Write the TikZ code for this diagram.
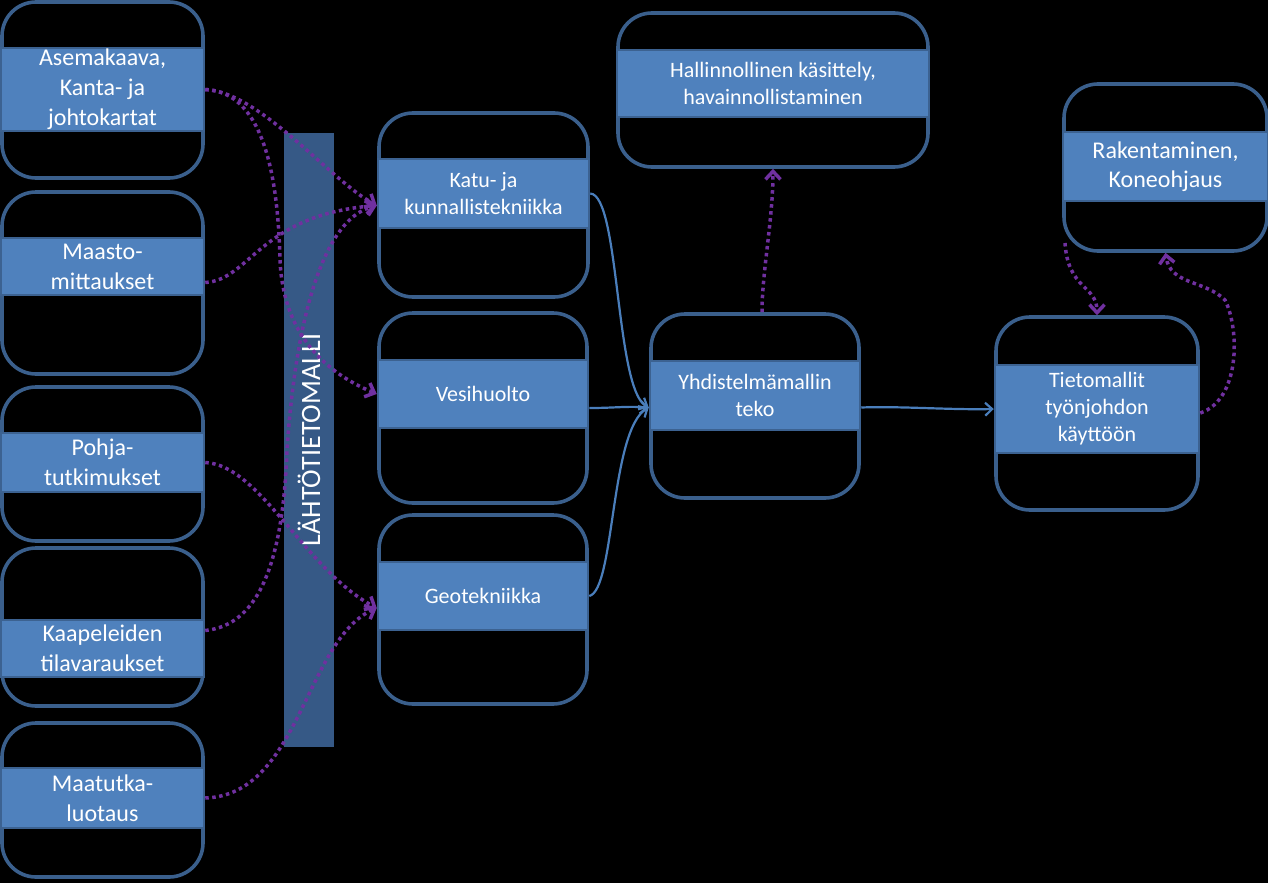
\documentclass[tikz,border=0pt]{standalone}
\usepackage{fontspec}
\setmainfont{Carlito}
\usetikzlibrary{arrows.meta}
\definecolor{boxline}{RGB}{58,95,140}
\definecolor{bandfill}{RGB}{79,129,189}
\definecolor{bandline}{RGB}{60,98,145}
\definecolor{barfill}{RGB}{54,89,134}
\definecolor{dotpurple}{RGB}{112,48,160}
\definecolor{linkblue}{RGB}{74,126,187}
\begin{document}
\begin{tikzpicture}[x=1pt,y=-1pt,
  frame/.style={draw=boxline,line width=3.6pt,rounded corners=34pt,inner sep=0pt},
  band/.style={fill=bandfill,draw=bandline,line width=2.5pt,inner sep=0pt,text=white,align=center},
  big/.style={font=\fontsize{24}{30}\selectfont},
  mid/.style={font=\fontsize{22}{27}\selectfont},
  feed/.style={draw=dotpurple,line width=3.5pt,dash pattern=on 3.5pt off 3.5pt,-{Straight Barb[length=8pt,width=15pt]}},
  flow/.style={draw=linkblue,line width=2.2pt,-{Straight Barb[length=7pt,width=13pt]}}]
\fill[black] (0,0) rectangle (1268,883);
\useasboundingbox (0,0) rectangle (1268,883);

% left column
\node[frame,minimum width=201pt,minimum height=176pt] (f1) at (102.5,90) {};
\node[band,big,minimum width=203pt,minimum height=83pt] (a1) at (102.5,89.5) {Asemakaava,\\Kanta- ja\\johtokartat};
\node[frame,minimum width=201pt,minimum height=182pt] (f2) at (102.5,283) {};
\node[band,big,minimum width=203pt,minimum height=57pt] (a2) at (102.5,266.5) {Maasto-\\mittaukset};
\node[frame,minimum width=201pt,minimum height=154pt] (f3) at (102.5,464) {};
\node[band,big,minimum width=203pt,minimum height=59pt] (a3) at (102.5,462.5) {Pohja-\\tutkimukset};
\node[frame,minimum width=201pt,minimum height=158pt] (f4) at (102.5,627) {};
\node[band,big,minimum width=203pt,minimum height=57pt] (a4) at (102.5,648.5) {Kaapeleiden\\tilavaraukset};
\node[frame,minimum width=201pt,minimum height=154pt] (f5) at (102.5,800) {};
\node[band,big,minimum width=203pt,minimum height=60pt] (a5) at (102.5,798) {Maatutka-\\luotaus};

% bar
\node[fill=barfill,rotate=90,minimum width=614pt,minimum height=50pt,inner sep=0pt,text=white,font=\fontsize{28}{30}\selectfont] (bar) at (309,440) {LÄHTÖTIETOMALLI};

% middle column
\node[frame,minimum width=209pt,minimum height=184pt] (fkatu) at (483.5,205) {};
\node[band,mid,minimum width=211pt,minimum height=69pt] (katu) at (483.5,193.5) {Katu- ja\\kunnallistekniikka};
\node[frame,minimum width=208pt,minimum height=190pt] (fvesi) at (483,408) {};
\node[band,mid,minimum width=210pt,minimum height=68pt] (vesi) at (483,394) {Vesihuolto};
\node[frame,minimum width=208pt,minimum height=189pt] (fgeo) at (483,609.5) {};
\node[band,mid,minimum width=210pt,minimum height=68pt] (geo) at (483,596) {Geotekniikka};

% right part
\node[frame,minimum width=208pt,minimum height=184pt] (fyhd) at (755,406) {};
\node[band,mid,minimum width=210pt,minimum height=69pt] (yhd) at (755,395.5) {Yhdistelmämallin\\teko};
\node[frame,minimum width=310pt,minimum height=154pt] (fhall) at (773,90) {};
\node[band,mid,minimum width=312pt,minimum height=67pt] (hall) at (773,83.5) {Hallinnollinen käsittely,\\havainnollistaminen};
\node[frame,minimum width=203pt,minimum height=167pt] (frak) at (1165.5,167.5) {};
\node[band,big,font=\fontsize{24}{29}\selectfont,minimum width=205pt,minimum height=69pt] (rak) at (1165.5,166.5) {Rakentaminen,\\Koneohjaus};
\node[frame,minimum width=202pt,minimum height=193pt] (ftieto) at (1097,413.5) {};
\node[band,mid,minimum width=204pt,minimum height=88pt] (tieto) at (1097,409) {Tietomallit\\työnjohdon\\käyttöön};
\coordinate (rakout) at (1065,243);

% dotted feeds
\draw[feed] (a1.east) .. controls (260,92) and (330,180) .. ([yshift=-12pt]katu.west);
\draw[feed] (a1.east) .. controls (265,92) and (278,180) .. (280,260) .. controls (283,330) and (320,370) .. (vesi.west);
\draw[feed] ([yshift=-16pt]a2.east) .. controls (250,280) and (260,215) .. ([yshift=-12pt]katu.west);
\draw[feed] ([yshift=18pt]a4.east) .. controls (260,625) and (283,560) .. (287,450) .. controls (295,330) and (320,220) .. ([yshift=-12pt]katu.west);
\draw[feed] (a3.east) .. controls (260,465) and (305,570) .. ([yshift=-12pt]geo.west);
\draw[feed] (a5.east) .. controls (300,795) and (305,640) .. ([yshift=-12pt]geo.west);
\draw[feed] ([xshift=7pt]fyhd.north) .. controls +(0,-40) and +(0,50) .. (fhall.south);
\draw[feed] (rakout) .. controls (1068,290) and (1097,285) .. (ftieto.north);
\draw[feed] ([yshift=-4pt]tieto.east) .. controls (1240,400) and (1240,330) .. (1225,300) .. controls (1205,280) and (1170,285) .. (frak.south);

% solid flows
\draw[flow] (katu.east) .. controls (620,195) and (615,390) .. ([yshift=-12pt]yhd.west);
\draw[flow] ([yshift=-14pt]vesi.east) .. controls (615,408) and (625,406) .. ([yshift=-12pt]yhd.west);
\draw[flow] (geo.east) .. controls (615,590) and (610,430) .. ([yshift=-12pt]yhd.west);
\draw[flow] ([yshift=-12pt]yhd.east) .. controls (900,406) and (950,410) .. (tieto.west);
\end{tikzpicture}
\end{document}
